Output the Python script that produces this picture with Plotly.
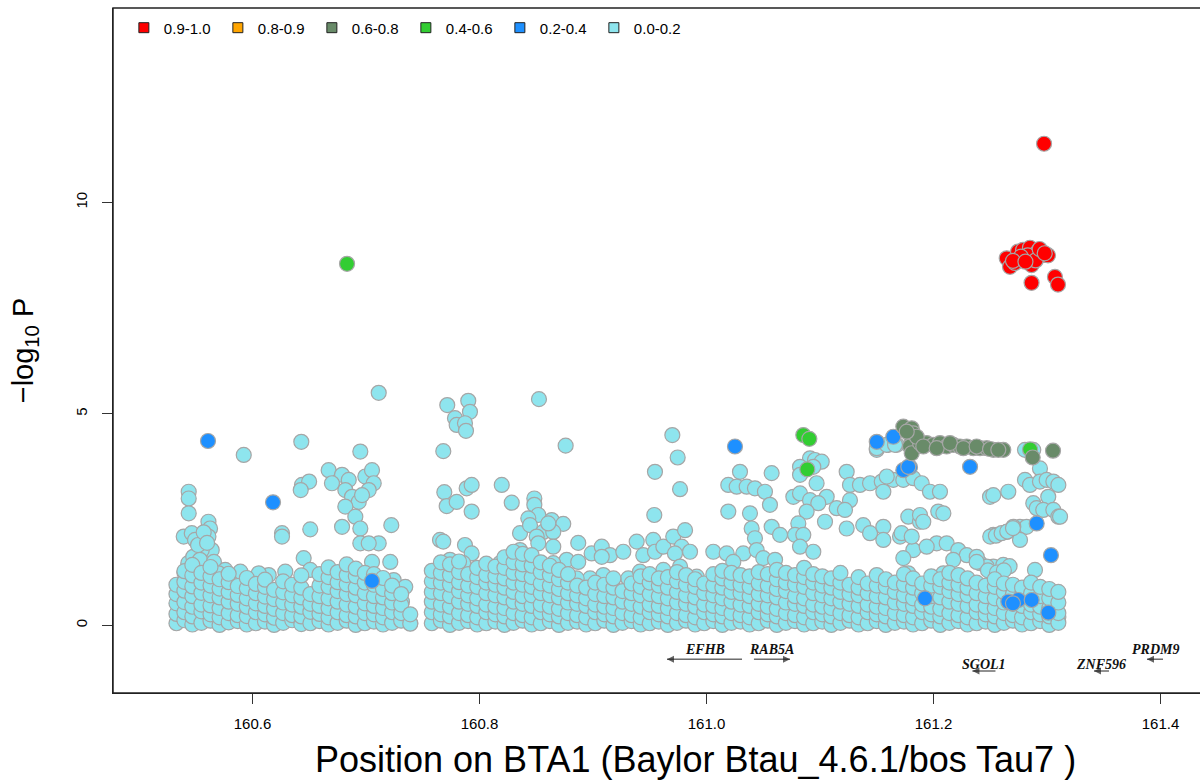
import plotly.graph_objects as go

# ---------------- data ----------------
ld_labels = ["0.9-1.0", "0.8-0.9", "0.6-0.8", "0.4-0.6", "0.2-0.4", "0.0-0.2"]
ld_colors = ["#FF0000", "#FFA500", "#698B69", "#32CD32", "#1E90FF", "#8EE5EE"]

# r2 0.9-1.0 (position Mb, -log10 P)
snp_red = [(161.2974, 11.39), (161.2645, 8.68), (161.2674, 8.48), (161.2718, 8.57), (161.2745, 8.84),
           (161.2789, 8.88), (161.2850, 8.93), (161.2864, 8.52), (161.2920, 8.84), (161.2952, 8.75),
           (161.3009, 8.75), (161.2864, 8.10), (161.3070, 8.24), (161.3097, 8.06), (161.2830, 8.75),
           (161.2770, 8.72), (161.2900, 8.63), (161.2935, 8.90), (161.2700, 8.62), (161.2810, 8.60),
           (161.2980, 8.80)]
snp_orange = []
snp_dkgreen = [(161.1734, 4.70), (161.1808, 4.66), (161.1822, 4.54), (161.1808, 4.38), (161.1793, 4.23),
               (161.1808, 4.07), (161.1881, 4.31), (161.1940, 4.31), (161.1998, 4.27), (161.2057, 4.31),
               (161.2116, 4.23), (161.2174, 4.27), (161.2233, 4.23), (161.2293, 4.23), (161.2351, 4.19),
               (161.2410, 4.19), (161.2469, 4.19), (161.2527, 4.15), (161.2615, 4.15), (161.1852, 4.46),
               (161.1910, 4.23), (161.2028, 4.19), (161.2145, 4.31), (161.2263, 4.19), (161.2380, 4.23),
               (161.2498, 4.17), (161.2571, 4.15), (161.1764, 4.58), (161.3053, 4.13), (161.2874, 3.97)]
snp_green = [(160.6833, 8.55), (161.0853, 4.50), (161.0906, 4.41), (161.0888, 3.69), (161.2851, 4.16)]
snp_blue = [(160.5608, 4.36), (160.6181, 2.91), (160.7053, 1.05), (161.0251, 4.23), (161.1500, 4.34),
            (161.1646, 4.46), (161.1734, 3.67), (161.1793, 3.74), (161.2322, 3.75), (161.1925, 0.64),
            (161.1778, 3.75), (161.2909, 2.41), (161.3035, 1.66), (161.2659, 0.56), (161.2747, 0.60),
            (161.2865, 0.60), (161.3012, 0.30), (161.2700, 0.52)]

# r2 0.0-0.2, scattered SNPs above the dense band
snp_lb_upper = [
    (160.7112, 5.50), (160.6430, 4.34), (160.5923, 4.03), (160.6950, 4.11),
    (160.5438, 3.16), (160.5438, 3.00), (160.5438, 2.65), (160.5394, 2.10),
    (160.5465, 2.18), (160.5494, 2.02), (160.5612, 2.45), (160.5626, 2.29), (160.5612, 2.10),
    (160.5641, 1.78), (160.5553, 1.78), (160.5434, 1.47), (160.5478, 1.62), (160.5537, 1.55),
    (160.5400, 1.25), (160.5460, 1.35), (160.5520, 1.90), (160.5570, 2.20), (160.5600, 1.95),
    (160.5660, 1.50), (160.5660, 1.15), (160.5580, 1.05),
    (160.6436, 3.32), (160.6499, 3.40), (160.6425, 3.20),
    (160.6671, 3.67), (160.6789, 3.56), (160.6848, 3.44), (160.6700, 3.36), (160.6818, 3.20),
    (160.6877, 3.04), (160.6936, 2.92), (160.6818, 2.81), (160.6994, 3.52), (160.7053, 3.67),
    (160.7068, 3.36), (160.7024, 3.20), (160.6965, 3.08), (160.6906, 2.57), (160.6789, 2.33),
    (160.6950, 2.29), (160.7223, 2.37), (160.7112, 1.94), (160.6950, 1.94), (160.7024, 1.94),
    (160.7214, 1.50), (160.7053, 1.50), (160.7170, 1.03), (160.7244, 1.07), (160.7346, 0.91),
    (160.7317, 0.56), (160.7200, 0.48), (160.7229, 0.24), (160.7390, 0.05),
    (160.6260, 2.18), (160.6260, 2.10), (160.6509, 2.27), (160.6451, 1.59), (160.6509, 1.31),
    (160.5893, 1.27), (160.5967, 1.07), (160.5760, 1.31), (160.5702, 1.23), (160.6289, 1.27),
    (160.6143, 1.19), (160.6055, 1.23),
    (160.7716, 5.21), (160.7901, 5.31), (160.7916, 5.05), (160.7784, 4.90), (160.7799, 4.74),
    (160.7872, 4.78), (160.7881, 4.60), (160.8524, 5.35), (160.8759, 4.25), (160.7681, 4.12),
    (160.9699, 4.50), (160.9746, 3.97), (160.9546, 3.63), (160.9767, 3.22), (160.9540, 2.61),
    (160.7690, 3.15), (160.7711, 2.82), (160.7799, 2.92), (160.7887, 3.24), (160.7931, 3.32),
    (160.7931, 2.69), (160.8196, 3.32), (160.8284, 2.90), (160.8483, 3.00), (160.8483, 2.85),
    (160.8518, 2.61), (160.8430, 2.53), (160.8357, 2.18), (160.8445, 2.37), (160.8636, 2.49),
    (160.8738, 2.40), (160.8562, 2.21), (160.8650, 2.21), (160.8504, 2.10), (160.8518, 1.94),
    (160.8650, 1.86), (160.7652, 2.02), (160.7681, 1.98), (160.7872, 1.90), (160.7931, 1.70),
    (160.8870, 1.95), (160.8988, 1.70), (160.9077, 1.86), (160.9150, 1.66), (160.9077, 1.62),
    (160.9267, 1.74), (160.9385, 1.98), (160.9443, 1.66), (160.9531, 2.02), (160.9546, 1.74),
    (160.9620, 1.86), (160.9707, 2.10), (160.9811, 2.25), (160.9781, 1.86), (160.9855, 1.74),
    (160.9722, 1.70), (160.9311, 1.11), (160.9091, 1.19), (160.8768, 1.55), (160.8870, 1.50),
    (160.8974, 1.11), (160.8856, 1.11), (160.8753, 1.15), (160.8650, 1.47), (160.8606, 2.41),
    (160.8357, 1.78), (160.8269, 1.62), (160.8181, 1.47), (160.8093, 1.39), (160.8004, 1.31),
    (160.7740, 1.55), (160.7652, 1.31), (160.7857, 1.47), (160.9414, 1.27), (160.9443, 0.99),
    (160.9620, 1.31), (160.9767, 1.39), (160.9914, 1.15), (160.9972, 0.88),
    (161.0295, 3.63), (161.0192, 3.32), (161.0266, 3.28), (161.0354, 3.28), (161.0427, 3.24),
    (161.0515, 3.16), (161.0574, 3.60), (161.0559, 2.85), (161.0192, 2.69), (161.0383, 2.65),
    (161.0398, 2.29), (161.0427, 2.06), (161.0574, 2.33), (161.0648, 2.14), (161.0060, 1.74),
    (161.0178, 1.70), (161.0324, 1.70), (161.0442, 1.78), (161.0236, 1.50), (161.0500, 1.59),
    (161.0604, 1.55), (161.0912, 3.95), (161.0956, 3.91), (161.1015, 3.87), (161.0824, 3.75),
    (161.0824, 3.56), (161.0970, 3.36), (161.0941, 3.75), (161.0765, 3.04), (161.0824, 3.12),
    (161.0912, 2.96), (161.1059, 3.04), (161.0985, 2.89), (161.0882, 2.69), (161.1044, 2.45),
    (161.0809, 2.41), (161.0780, 2.14), (161.0853, 2.14), (161.0824, 1.86), (161.0941, 1.74),
    (161.1235, 3.63), (161.1264, 3.32), (161.1352, 3.32), (161.1441, 3.36), (161.1544, 3.40),
    (161.1646, 3.44), (161.1734, 3.44), (161.1822, 3.48), (161.1896, 3.36), (161.1969, 3.16),
    (161.2057, 3.16), (161.1558, 3.16), (161.1588, 3.52), (161.1500, 4.15), (161.1602, 4.27),
    (161.1676, 4.27), (161.1264, 2.96), (161.1147, 2.77), (161.1220, 2.73), (161.1235, 2.29),
    (161.1381, 2.37), (161.1441, 2.18), (161.1558, 2.33), (161.1558, 2.02), (161.1705, 2.10),
    (161.1778, 2.57), (161.1881, 2.45), (161.2042, 2.69), (161.2087, 2.65), (161.2028, 1.94),
    (161.2116, 1.94), (161.2218, 1.78), (161.2293, 1.66), (161.2174, 1.55), (161.1822, 1.78),
    (161.1734, 1.59), (161.1940, 1.86), (161.1778, 1.23), (161.2087, 1.23), (161.2057, 0.91),
    (161.2498, 3.04), (161.2527, 2.14), (161.2410, 1.47), (161.2527, 1.39),
    (161.2527, 3.08), (161.2659, 3.16), (161.2806, 3.44), (161.2938, 3.71), (161.2850, 3.32),
    (161.2938, 3.40), (161.2997, 3.44), (161.3056, 3.40), (161.3100, 3.32), (161.2879, 2.89),
    (161.3011, 3.04), (161.2909, 2.77), (161.2967, 2.73), (161.3056, 2.73), (161.3100, 2.57),
    (161.2762, 2.33), (161.2820, 2.33), (161.2703, 2.33), (161.2645, 2.21), (161.2557, 2.14),
    (161.2762, 2.02), (161.2894, 1.31), (161.3011, 0.76), (161.2615, 1.43), (161.2469, 1.39),
    (161.2381, 1.62), (161.1881, 2.61), (161.1719, 2.18), (161.1808, 2.10), (161.1910, 2.45),
    (161.1500, 4.19), (161.1588, 4.27), (161.1661, 4.27), (161.2879, 4.15), (161.2806, 4.15),
    (161.2500, 2.10), (161.2550, 2.12), (161.2600, 2.18), (161.2650, 2.22), (161.2700, 2.30),
    (161.3115, 2.57), (161.3005, 0.79), (161.3100, 0.20), (161.2380, 1.50), (161.2480, 1.30),
    (161.2560, 1.25), (161.2670, 1.40), (161.2620, 1.30),
]

# r2 0.0-0.2, dense band near zero: (position Mb, [-log10 P values])
snp_lb_band = [
    (160.533, [0.05, 0.27, 0.52, 0.74, 0.96]),
    (160.540, [0.12, 0.31, 0.55, 0.82, 1.03, 1.28]),
    (160.547, [0.02, 0.21, 0.44, 0.69, 0.92, 1.18, 1.43]),
    (160.555, [0.06, 0.33, 0.49, 0.77, 1.01, 1.24]),
    (160.563, [0.11, 0.26, 0.47, 0.71, 0.94, 1.16, 1.38]),
    (160.571, [0.01, 0.19, 0.41, 0.66, 0.87, 1.09]),
    (160.579, [0.07, 0.29, 0.56, 0.79, 1.02, 1.22]),
    (160.587, [0.10, 0.24, 0.51, 0.72, 0.93]),
    (160.595, [0.02, 0.22, 0.44, 0.64, 0.88, 1.12]),
    (160.603, [0.05, 0.31, 0.52, 0.76, 0.98]),
    (160.611, [0.09, 0.26, 0.46, 0.68, 0.91, 1.08]),
    (160.619, [0.01, 0.18, 0.39, 0.62, 0.84]),
    (160.627, [0.06, 0.29, 0.54, 0.78, 1.04]),
    (160.635, [0.12, 0.24, 0.49, 0.71, 0.96]),
    (160.643, [0.03, 0.21, 0.44, 0.66, 0.89, 1.18]),
    (160.651, [0.05, 0.32, 0.51, 0.74]),
    (160.659, [0.10, 0.27, 0.46, 0.69, 0.94, 1.21]),
    (160.667, [0.02, 0.19, 0.41, 0.64, 0.91, 1.14, 1.37]),
    (160.675, [0.06, 0.31, 0.56, 0.81, 1.02, 1.26]),
    (160.683, [0.11, 0.24, 0.49, 0.74, 0.97, 1.19, 1.44]),
    (160.691, [0.01, 0.21, 0.44, 0.71, 0.89, 1.16, 1.34]),
    (160.699, [0.05, 0.29, 0.52, 0.76, 1.01, 1.24]),
    (160.707, [0.09, 0.26, 0.46, 0.69, 0.96, 1.21]),
    (160.715, [0.02, 0.19, 0.41, 0.66, 0.86, 1.12]),
    (160.723, [0.06, 0.31, 0.54, 0.76, 0.94]),
    (160.731, [0.11, 0.29, 0.49, 0.74]),
    (160.739, [0.04, 0.26]),
    (160.758, [0.05, 0.31, 0.56, 0.79, 1.04, 1.29]),
    (160.766, [0.11, 0.26, 0.49, 0.76, 1.01, 1.24, 1.49]),
    (160.774, [0.01, 0.21, 0.44, 0.69, 0.96, 1.19, 1.44]),
    (160.782, [0.06, 0.29, 0.56, 0.81, 1.02, 1.26, 1.51]),
    (160.790, [0.10, 0.24, 0.51, 0.71, 0.94, 1.21]),
    (160.798, [0.02, 0.19, 0.46, 0.64, 0.91, 1.14, 1.36]),
    (160.806, [0.05, 0.31, 0.49, 0.76, 1.01, 1.19, 1.46]),
    (160.814, [0.09, 0.26, 0.44, 0.71, 0.96, 1.16, 1.39]),
    (160.822, [0.01, 0.21, 0.41, 0.66, 0.89, 1.11, 1.36, 1.61]),
    (160.830, [0.06, 0.29, 0.56, 0.79, 1.01, 1.24, 1.49, 1.74]),
    (160.838, [0.11, 0.24, 0.51, 0.69, 0.96, 1.21, 1.44, 1.69]),
    (160.846, [0.02, 0.19, 0.46, 0.71, 0.91, 1.14, 1.41, 1.66]),
    (160.854, [0.05, 0.31, 0.49, 0.76, 0.99, 1.26, 1.49]),
    (160.862, [0.10, 0.26, 0.44, 0.71, 0.94, 1.19, 1.41]),
    (160.870, [0.01, 0.21, 0.39, 0.66, 0.86, 1.09, 1.31]),
    (160.878, [0.06, 0.29, 0.54, 0.76, 1.01, 1.21]),
    (160.886, [0.09, 0.24, 0.51, 0.71, 0.94]),
    (160.894, [0.02, 0.19, 0.46, 0.64, 0.89]),
    (160.902, [0.05, 0.31, 0.49, 0.74, 1.01]),
    (160.910, [0.11, 0.26, 0.44, 0.69, 0.96]),
    (160.918, [0.01, 0.21, 0.41, 0.66, 0.89, 1.11]),
    (160.926, [0.06, 0.29, 0.56, 0.81]),
    (160.934, [0.10, 0.24, 0.51, 0.76, 0.99]),
    (160.942, [0.02, 0.19, 0.44, 0.71, 0.91, 1.16]),
    (160.950, [0.05, 0.31, 0.49, 0.74, 1.01, 1.21]),
    (160.958, [0.09, 0.26, 0.46, 0.69, 0.94, 1.11]),
    (160.966, [0.01, 0.21, 0.41, 0.64, 0.89, 1.14]),
    (160.974, [0.06, 0.29, 0.54, 0.79, 1.04, 1.26]),
    (160.982, [0.11, 0.24, 0.51, 0.71, 0.96, 1.19]),
    (160.990, [0.02, 0.19, 0.44, 0.66, 0.91, 1.09]),
    (160.998, [0.05, 0.31, 0.49, 0.76, 0.99]),
    (161.006, [0.10, 0.26, 0.46, 0.71, 0.94, 1.21]),
    (161.014, [0.01, 0.21, 0.41, 0.64, 0.89, 1.11, 1.29]),
    (161.022, [0.06, 0.29, 0.56, 0.79, 1.01, 1.24]),
    (161.030, [0.09, 0.24, 0.49, 0.76, 0.96, 1.19]),
    (161.038, [0.02, 0.19, 0.46, 0.69, 0.91, 1.16]),
    (161.046, [0.05, 0.31, 0.51, 0.74, 0.99, 1.26]),
    (161.054, [0.11, 0.26, 0.44, 0.71, 0.94, 1.21]),
    (161.062, [0.01, 0.21, 0.39, 0.66, 0.86, 1.09, 1.31]),
    (161.070, [0.06, 0.29, 0.54, 0.81, 1.01, 1.24]),
    (161.078, [0.10, 0.24, 0.51, 0.69, 0.96, 1.19]),
    (161.086, [0.02, 0.19, 0.46, 0.64, 0.91, 1.14, 1.36]),
    (161.094, [0.05, 0.31, 0.49, 0.76, 1.01, 1.21]),
    (161.102, [0.09, 0.26, 0.44, 0.71, 0.94, 1.16]),
    (161.110, [0.01, 0.21, 0.41, 0.64, 0.89, 1.11]),
    (161.118, [0.06, 0.29, 0.56, 0.79, 1.01, 1.24]),
    (161.126, [0.11, 0.24, 0.51, 0.74, 0.96]),
    (161.134, [0.02, 0.19, 0.46, 0.71, 0.89, 1.14]),
    (161.142, [0.05, 0.31, 0.49, 0.76, 0.99]),
    (161.150, [0.10, 0.26, 0.44, 0.69, 0.94, 1.19]),
    (161.158, [0.01, 0.21, 0.41, 0.66, 0.91, 1.09]),
    (161.166, [0.06, 0.29, 0.54, 0.79, 1.01]),
    (161.174, [0.09, 0.24, 0.51, 0.71, 0.96, 1.21]),
    (161.182, [0.02, 0.19, 0.46, 0.64, 0.89, 1.11]),
    (161.190, [0.05, 0.31, 0.49, 0.76, 0.99]),
    (161.198, [0.11, 0.26, 0.44, 0.69, 0.94, 1.16]),
    (161.206, [0.01, 0.21, 0.39, 0.66, 0.91, 1.09]),
    (161.214, [0.06, 0.29, 0.56, 0.81, 1.01, 1.24]),
    (161.222, [0.10, 0.24, 0.51, 0.74, 0.96, 1.19]),
    (161.230, [0.02, 0.19, 0.46, 0.71, 0.89, 1.11]),
    (161.238, [0.05, 0.31, 0.49, 0.76, 1.01]),
    (161.246, [0.09, 0.26, 0.44, 0.69, 0.94]),
    (161.254, [0.01, 0.21, 0.41, 0.64, 0.91, 1.09]),
    (161.262, [0.06, 0.29, 0.54, 0.79, 0.99]),
    (161.270, [0.11, 0.24, 0.51, 0.74, 0.96]),
    (161.278, [0.02, 0.19, 0.46, 0.71, 0.89]),
    (161.286, [0.05, 0.31, 0.49, 0.76, 1.01]),
    (161.294, [0.10, 0.26, 0.44, 0.69, 0.91]),
    (161.302, [0.01, 0.21, 0.41, 0.64, 0.86]),
    (161.310, [0.06, 0.29, 0.54, 0.79]),
]

# genes
gene_names = ["EFHB", "RAB5A", "SGOL1", "ZNF596", "PRDM9"]
gene_start = [160.9652, 161.0418, 161.2343, 161.3414, 161.3881]
gene_end = [161.0313, 161.0736, 161.2546, 161.3546, 161.4022]
gene_strand = ["-", "+", "-", "-", "-"]
gene_row = [1, 1, 2, 2, 1]
row_arrow_y = {1: -0.80, 2: -1.08}
row_label_y = {1: -0.58, 2: -0.93}

x_ticks = [160.6, 160.8, 161.0, 161.2, 161.4]
y_ticks = [0, 5, 10]

# ---------------- figure ----------------
EDGE = "#A6A6A6"
fig = go.Figure()

lb_x = [p for p, _ in snp_lb_upper]
lb_y = [v for _, v in snp_lb_upper]
for p, vals in snp_lb_band:
    for v in vals:
        lb_x.append(p)
        lb_y.append(v)

series = {
    "0.0-0.2": (lb_x, lb_y),
    "0.2-0.4": ([p for p, _ in snp_blue], [v for _, v in snp_blue]),
    "0.4-0.6": ([p for p, _ in snp_green], [v for _, v in snp_green]),
    "0.6-0.8": ([p for p, _ in snp_dkgreen], [v for _, v in snp_dkgreen]),
    "0.8-0.9": ([p for p, _ in snp_orange], [v for _, v in snp_orange]),
    "0.9-1.0": ([p for p, _ in snp_red], [v for _, v in snp_red]),
}
color_of = dict(zip(ld_labels, ld_colors))

# legend entries (in legend order)
for lab, col in zip(ld_labels, ld_colors):
    fig.add_trace(go.Scatter(
        x=[None], y=[None], mode="markers", name=lab, legendgroup=lab,
        marker=dict(symbol="square", size=10, color=col, line=dict(color="#222222", width=1)),
        hoverinfo="skip"))

# data (low LD drawn first)
for lab in ["0.0-0.2", "0.2-0.4", "0.4-0.6", "0.6-0.8", "0.8-0.9", "0.9-1.0"]:
    xs, ys = series[lab]
    fig.add_trace(go.Scatter(
        x=xs, y=ys, mode="markers", name=lab, legendgroup=lab, showlegend=False,
        marker=dict(symbol="circle", size=15, color=color_of[lab], line=dict(color=EDGE, width=1.2))))

# gene arrows as line traces with an arrow marker at the head
for name, s, e, strand, row in zip(gene_names, gene_start, gene_end, gene_strand, gene_row):
    ya = row_arrow_y[row]
    xs = [s, e]
    syms = ["arrow-left", "line-ns"] if strand == "-" else ["line-ns", "arrow-right"]
    sizes = [7, 0] if strand == "-" else [0, 7]
    fig.add_trace(go.Scatter(
        x=xs, y=[ya, ya], mode="lines+markers", showlegend=False, hoverinfo="skip",
        line=dict(color="#222222", width=1),
        marker=dict(symbol=syms, size=sizes, color="#222222", line=dict(width=0))))

annotations = []
for name, s, e, row in zip(gene_names, gene_start, gene_end, gene_row):
    annotations.append(dict(x=(s + e) / 2, y=row_label_y[row], xref="x", yref="y",
                            text="<b><i>" + name + "</i></b>", showarrow=False,
                            font=dict(family="Liberation Serif", size=14, color="#111111")))

annotations.append(dict(x=(695 - 113) / 1087, y=0, xref="paper", yref="paper", yanchor="middle",
                        yshift=-66, text="Position on BTA1 (Baylor Btau_4.6.1/bos Tau7 )",
                        showarrow=False, font=dict(family="Liberation Sans", size=36, color="#000000")))

fig.update_layout(
    width=1200, height=781,
    margin=dict(l=113, r=0, t=8, b=88),
    paper_bgcolor="white", plot_bgcolor="white",
    font=dict(family="Liberation Sans", color="#000000"),
    showlegend=True,
    legend=dict(orientation="h", x=0.010, y=0.995, xanchor="left", yanchor="top",
                font=dict(family="Liberation Sans", size=15), bgcolor="rgba(0,0,0,0)",
                entrywidth=49, entrywidthmode="pixels", itemclick=False, itemdoubleclick=False),
    xaxis=dict(range=[160.4771, 161.4348], tickvals=x_ticks, ticktext=[f"{t:.1f}" for t in x_ticks],
               ticks="outside", ticklen=10, tickcolor="#333333", tickwidth=1,
               showline=True, linecolor="#222222", linewidth=1, showgrid=False, zeroline=False,
               tickfont=dict(size=15), ticklabelstandoff=7),
    yaxis=dict(range=[-1.60, 14.60], tickvals=y_ticks, ticktext=[str(t) for t in y_ticks],
               ticks="outside", ticklen=10, tickcolor="#333333", tickwidth=1, tickangle=-90,
               showline=True, linecolor="#222222", linewidth=1, showgrid=False, zeroline=False,
               tickfont=dict(size=15), ticklabelstandoff=9,
               title=dict(text="\u2212log<sub>10</sub> P", font=dict(family="Liberation Sans", size=29),
                          standoff=30)),
    annotations=annotations,
    shapes=[dict(type="rect", xref="paper", yref="paper", x0=0, x1=1.02, y0=0, y1=1,
                 line=dict(color="#222222", width=1.5), layer="above")],
)

fig.write_html("out.html")
